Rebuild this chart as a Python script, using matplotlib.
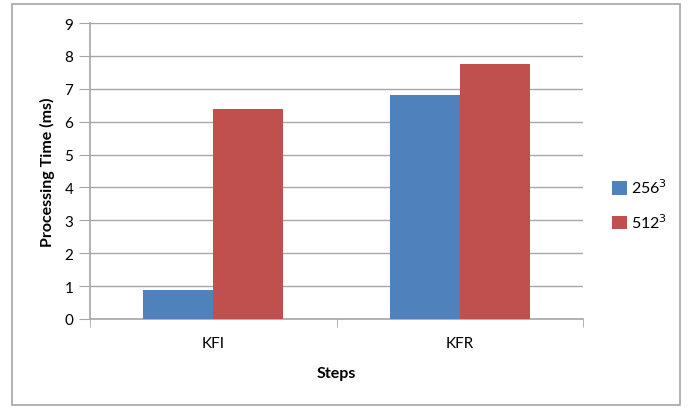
import matplotlib.pyplot as plt
import numpy as np
from matplotlib.patches import Rectangle

plt.rcParams["font.family"] = ["Lato", "DejaVu Sans"]

steps = ["KFI", "KFR"]
series_names = ["256$^3$", "512$^3$"]
times_256 = [0.89, 6.80]
times_512 = [6.40, 7.75]
colors = ["#4F81BD", "#C0504D"]
grid_color = "#A6A6A6"

fig = plt.figure(figsize=(6.88, 4.10), dpi=100)
# outer chart frame like the spreadsheet chart
fig.patches.append(Rectangle((12 / 688, 4 / 410), 668 / 688, 401 / 410,
                             transform=fig.transFigure, fill=False,
                             edgecolor="#A6A6A6", linewidth=1.2))

ax = fig.add_axes([90 / 688, 90 / 410, 493 / 688, 296 / 410])

x = np.arange(len(steps))
width = 0.284
ax.bar(x - width / 2, times_256, width, color=colors[0], label=series_names[0], zorder=3)
ax.bar(x + width / 2, times_512, width, color=colors[1], label=series_names[1], zorder=3)

ax.set_xlim(-0.5, len(steps) - 0.5)
ax.set_ylim(0, 9)
ax.set_yticks(range(0, 10))
ax.yaxis.grid(True, color=grid_color, linewidth=1.0, zorder=0)
ax.tick_params(axis="y", length=8, color=grid_color, labelsize=11, pad=4)

ax.set_xticks(x)
ax.set_xticklabels(steps)
ax.set_xticks(np.arange(-0.5, len(steps)), minor=True)
ax.tick_params(axis="x", which="major", length=0, labelsize=11, pad=12)
ax.tick_params(axis="x", which="minor", length=6, color=grid_color)

for side in ["top", "right"]:
    ax.spines[side].set_visible(False)
for side in ["left", "bottom"]:
    ax.spines[side].set_color(grid_color)
    ax.spines[side].set_linewidth(1.2)

ax.set_ylabel("Processing Time (ms)", fontsize=11.5, fontweight="bold", labelpad=7)
ax.set_xlabel("Steps", fontsize=11.5, fontweight="bold", labelpad=12)

ax.legend(loc="center left", bbox_to_anchor=(1.03, 0.387), frameon=False,
          fontsize=11.5, handlelength=0.9, handleheight=0.9, handletextpad=0.25,
          labelspacing=1.0)

fig.savefig("out.png", dpi=100)
